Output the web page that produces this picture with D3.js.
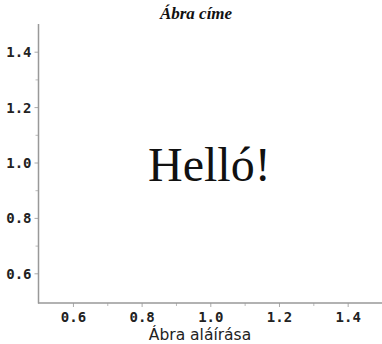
<!DOCTYPE html>
<html><head><meta charset="utf-8">
<script src="https://cdn.jsdelivr.net/npm/d3@7"></script>
<style>
html,body{margin:0;padding:0;background:#fff;}
svg{display:block;}
</style></head>
<body>
<script>
const chartTitle = "Ábra címe";
const xLabel = "Ábra aláírása";
const annotationText = ["Helló!"];
const annotationX = [1.0];
const annotationY = [1.0];
const xDomain = [0.5, 1.5];
const yDomain = [0.5, 1.5];
const majorTicks = [0.6, 0.8, 1.0, 1.2, 1.4];
const minorTicks = [0.7, 0.9, 1.1, 1.3];

const W = 382, H = 344;
const svg = d3.select("body").append("svg").attr("width", W).attr("height", H);

const x = d3.scaleLinear().domain(xDomain).range([38.6, 382]);
const y = d3.scaleLinear().domain(yDomain).range([301, 24]);

const fmt = d3.format(".1f");

// minor ticks
svg.append("g").attr("transform", "translate(38.5,0)")
  .call(d3.axisLeft(y).tickValues(minorTicks).tickSize(3).tickFormat(""))
  .call(g => g.select(".domain").remove())
  .call(g => g.selectAll("line").attr("stroke", "#bbb"));
svg.append("g").attr("transform", "translate(0,303)")
  .call(d3.axisBottom(x).tickValues(minorTicks).tickSize(3).tickFormat(""))
  .call(g => g.select(".domain").remove())
  .call(g => g.selectAll("line").attr("stroke", "#bbb"));

// major y axis
const yAx = svg.append("g").attr("transform", "translate(38.5,0)")
  .call(d3.axisLeft(y).tickValues(majorTicks).tickSize(4).tickPadding(3).tickFormat(fmt));
yAx.select(".domain").remove();
yAx.selectAll("line").attr("stroke", "#aaa");
yAx.selectAll("text").attr("font-family", "'DejaVu Sans Mono', monospace")
  .attr("font-weight", "bold").attr("font-size", "14px").attr("fill", "#222")
  .attr("dy", "0.36em");

// major x axis
const xAx = svg.append("g").attr("transform", "translate(0,303)")
  .call(d3.axisBottom(x).tickValues(majorTicks).tickSize(4).tickPadding(5).tickFormat(fmt));
xAx.select(".domain").remove();
xAx.selectAll("line").attr("stroke", "#aaa");
xAx.selectAll("text").attr("font-family", "'DejaVu Sans Mono', monospace")
  .attr("font-weight", "bold").attr("font-size", "14px").attr("fill", "#222");

// spines
svg.append("line").attr("x1", 38.5).attr("x2", 38.5).attr("y1", y(yDomain[1])).attr("y2", 303.5)
  .attr("stroke", "#999").attr("stroke-width", 1.5);
svg.append("line").attr("x1", 38).attr("x2", x(xDomain[1])).attr("y1", 303).attr("y2", 303)
  .attr("stroke", "#999").attr("stroke-width", 1.5);

// title
svg.append("text").attr("x", 196).attr("y", 19).attr("text-anchor", "middle")
  .attr("font-family", "'Liberation Serif', serif").attr("font-weight", "bold")
  .attr("font-style", "italic").attr("font-size", "17px").attr("fill", "#111")
  .text(chartTitle);

// x label
svg.append("text").attr("x", 200).attr("y", 340).attr("text-anchor", "middle")
  .attr("font-family", "'DejaVu Sans', sans-serif").attr("font-size", "15.5px").attr("fill", "#222")
  .text(xLabel);

// annotation
svg.selectAll("text.ann").data(annotationText).join("text").attr("class", "ann")
  .attr("x", (d, i) => x(annotationX[i]) - 1)
  .attr("y", (d, i) => y(annotationY[i]) + 18)
  .attr("text-anchor", "middle")
  .attr("font-family", "'Liberation Serif', serif").attr("font-size", "48px").attr("fill", "#111")
  .text(d => d);
</script>
</body></html>
